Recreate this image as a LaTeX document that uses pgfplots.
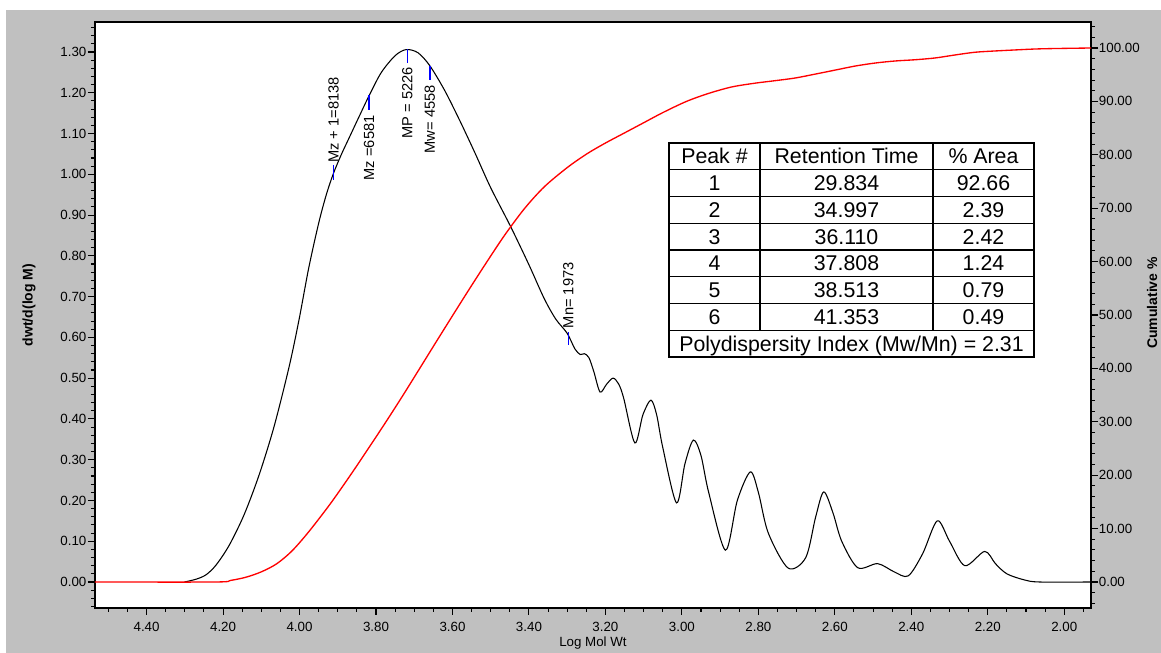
\documentclass[border=0pt]{standalone}
\usepackage{fontspec}
\setmainfont{Liberation Sans}
\usepackage{pgfplots}
\pgfplotsset{compat=1.18}
\newlength\px
\setlength\px{0.75pt}
\definecolor{bggray}{RGB}{192,192,192}
\definecolor{mkblue}{RGB}{0,0,255}

\pgfplotstableread{
x y
4.301 0.000
4.270 0.007
4.244 0.018
4.218 0.042
4.184 0.090
4.145 0.165
4.106 0.262
4.067 0.380
4.028 0.525
4.002 0.640
3.976 0.770
3.950 0.880
3.930 0.950
3.911 1.003
3.890 1.050
3.872 1.086
3.845 1.140
3.817 1.195
3.786 1.250
3.750 1.291
3.721 1.306
3.690 1.298
3.659 1.266
3.620 1.205
3.580 1.130
3.540 1.050
3.500 0.967
3.448 0.872
3.400 0.778
3.360 0.695
3.330 0.645
3.300 0.610
3.280 0.572
3.266 0.558
3.255 0.560
3.243 0.550
3.230 0.515
3.214 0.466
3.197 0.485
3.180 0.500
3.165 0.485
3.152 0.450
3.123 0.341
3.102 0.410
3.081 0.446
3.066 0.410
3.050 0.330
3.014 0.194
2.992 0.290
2.970 0.348
2.950 0.310
2.930 0.220
2.886 0.078
2.855 0.200
2.821 0.270
2.800 0.220
2.774 0.120
2.722 0.034
2.676 0.060
2.650 0.160
2.629 0.221
2.605 0.170
2.582 0.100
2.540 0.035
2.488 0.045
2.445 0.025
2.408 0.015
2.370 0.070
2.332 0.150
2.300 0.100
2.260 0.040
2.208 0.075
2.180 0.045
2.150 0.020
2.104 0.005
2.065 0.000
1.930 0.000
}\dwtdata

\pgfplotstableread{
x y
4.535 0.00
4.220 0.00
4.180 0.30
4.140 0.90
4.100 1.90
4.060 3.40
4.020 5.80
3.976 9.40
3.920 14.60
3.867 20.00
3.820 25.00
3.773 30.10
3.730 34.90
3.690 39.50
3.645 44.70
3.604 49.40
3.560 54.40
3.516 59.30
3.465 64.80
3.412 69.90
3.360 74.00
3.300 77.60
3.248 80.20
3.200 82.20
3.150 84.10
3.100 86.00
3.050 87.90
2.988 90.00
2.930 91.50
2.870 92.70
2.810 93.40
2.754 93.90
2.702 94.40
2.650 95.13
2.598 95.88
2.546 96.63
2.494 97.19
2.442 97.57
2.390 97.80
2.338 98.13
2.286 98.69
2.234 99.20
2.182 99.44
2.130 99.63
2.077 99.81
2.025 99.90
1.930 100.00
}\cumdata

\pgfplotsset{
  gpc/.style={
    at={(95\px,45\px)}, anchor=south west,
    scale only axis, width=996\px, height=586\px,
    x dir=reverse, xmin=1.93, xmax=4.535,
    tick align=outside,
    major tick length=7\px, minor tick length=4\px,
    tick style={black, line width=0.8pt},
    axis line style={line width=1.2pt},
    tick label style={font=\fontsize{10}{12}\selectfont, text=black},
    /pgf/number format/fixed,
    /pgf/number format/fixed zerofill,
    /pgf/number format/precision=2,
    /pgf/number format/assume math mode=true,
  }
}

\begin{document}
\begin{tikzpicture}
\useasboundingbox (0,0) rectangle (1161\px,653\px);
\fill[white] (0,0) rectangle (1161\px,653\px);
\fill[bggray] (6\px,0) rectangle (1161\px,643\px);

\begin{axis}[gpc,
  axis background/.style={fill=white},
  ymin=-0.0638, ymax=1.3736,
  xtick={2.00,2.20,2.40,2.60,2.80,3.00,3.20,3.40,3.60,3.80,4.00,4.20,4.40},
  minor xtick={1.95,2.00,...,4.50},
  ytick={0,0.1,0.2,0.3,0.4,0.5,0.6,0.7,0.8,0.9,1.0,1.1,1.2,1.3},
  minor ytick={-0.06,-0.04,...,1.365},
  xtick pos=bottom, ytick pos=left,
  xticklabel style={yshift=-2\px},
  yticklabel style={inner xsep=1pt},
]
\addplot[black, line width=0.8pt, smooth, tension=0.5] table[x=x,y=y] {\dwtdata};
\addplot[mkblue, line width=1.1pt] coordinates {(3.911,1.023) (3.911,0.986)};
\addplot[mkblue, line width=1.1pt] coordinates {(3.818,1.195) (3.818,1.158)};
\addplot[mkblue, line width=1.1pt] coordinates {(3.718,1.307) (3.718,1.272)};
\addplot[mkblue, line width=1.1pt] coordinates {(3.659,1.266) (3.659,1.231)};
\addplot[mkblue, line width=1.1pt] coordinates {(3.297,0.613) (3.297,0.581)};
\node[rotate=90, anchor=west, inner sep=0pt, font=\fontsize{11}{13}\selectfont] at (axis cs:3.911,1.028) {Mz + 1=8138};
\node[rotate=90, anchor=east, inner sep=0pt, font=\fontsize{11}{13}\selectfont] at (axis cs:3.818,1.145) {Mz =6581};
\node[rotate=90, anchor=east, inner sep=0pt, font=\fontsize{11}{13}\selectfont] at (axis cs:3.718,1.263) {MP = 5226};
\node[rotate=90, anchor=east, inner sep=0pt, font=\fontsize{11}{13}\selectfont] at (axis cs:3.659,1.219) {Mw= 4558};
\node[rotate=90, anchor=west, inner sep=0pt, font=\fontsize{11}{13}\selectfont] at (axis cs:3.297,0.622) {Mn= 1973};
\end{axis}

\begin{axis}[gpc,
  ymin=-4.87, ymax=104.87,
  axis y line*=right, axis x line=none,
  xtick=\empty,
  ytick={0,10,20,30,40,50,60,70,80,90,100},
  minor ytick={-4,-2,...,104},
  yticklabel style={inner xsep=0.5pt},
]
\addplot[red, line width=1pt, smooth, tension=0.5] table[x=x,y=y] {\cumdata};
\end{axis}

% axis titles
\node[font=\fontsize{10}{12}\selectfont] at (593\px,10\px) {Log Mol Wt};
\node[rotate=90, font=\bfseries\fontsize{10.5}{12}\selectfont] at (29\px,348\px) {dwt/d(log M)};
\node[rotate=90, font=\bfseries\fontsize{10.5}{12}\selectfont] at (1152\px,350\px) {Cumulative \%};

% results table
\fill[white] (669\px,296\px) rectangle (1034\px,510\px);
\draw[line width=1pt] (669\px,296\px) rectangle (1034\px,510\px);
\foreach \yy in {483.25,456.5,429.75,403,376.25,349.5,322.75}
  \draw[line width=1pt] (669\px,\yy\px) -- (1034\px,\yy\px);
\draw[line width=1pt] (760\px,510\px) -- (760\px,322.75\px);
\draw[line width=1pt] (933\px,510\px) -- (933\px,322.75\px);
\begin{scope}[every node/.style={anchor=base, inner sep=0pt, font=\fontsize{16}{19}\selectfont}]
\node at (714.5\px,489.1\px) {Peak \#};
\node at (846.5\px,489.1\px) {Retention Time};
\node at (983.5\px,489.1\px) {\% Area};
\foreach \yc/\pk/\rt/\ar in {462.4/1/29.834/92.66, 435.6/2/34.997/2.39, 408.9/3/36.110/2.42, 382.1/4/37.808/1.24, 355.4/5/38.513/0.79, 328.6/6/41.353/0.49}{
  \node at (714.5\px,\yc\px) {\pk};
  \node at (846.5\px,\yc\px) {\rt};
  \node at (983.5\px,\yc\px) {\ar};
}
\node at (851.5\px,301.9\px) {Polydispersity Index (Mw/Mn) = 2.31};
\end{scope}
\end{tikzpicture}
\end{document}
